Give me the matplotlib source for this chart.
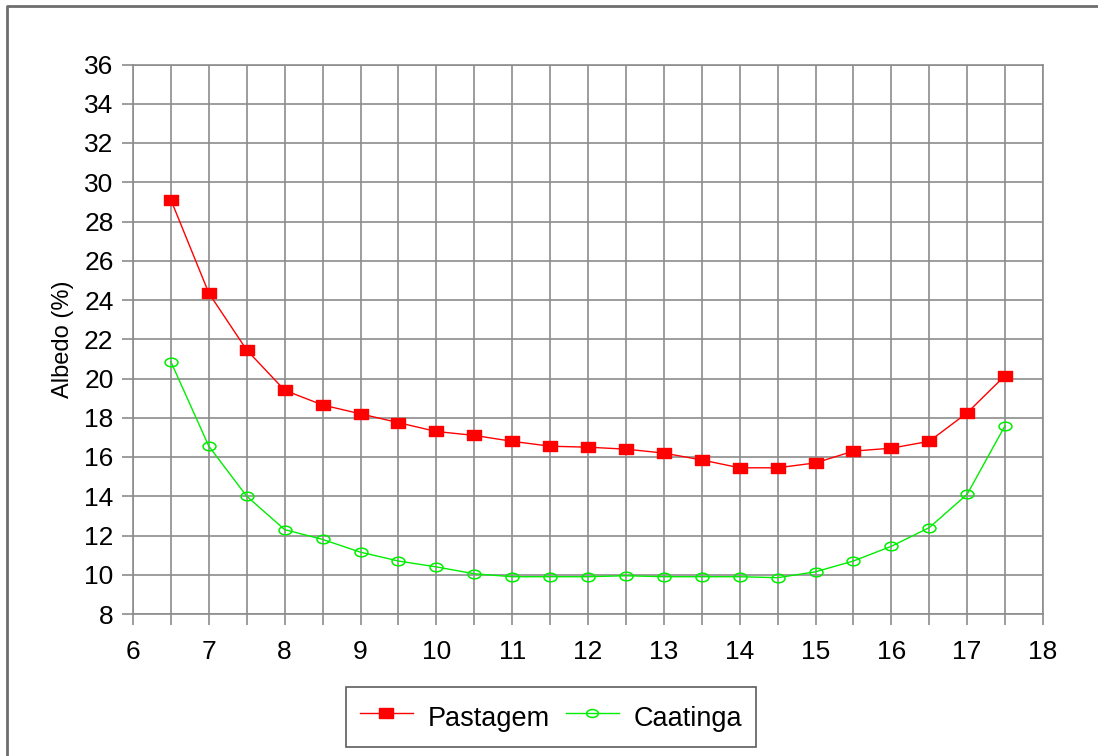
import matplotlib
matplotlib.use("Agg")
import matplotlib.pyplot as plt
from matplotlib.lines import Line2D
from matplotlib.path import Path
from matplotlib.transforms import Affine2D

plt.rcParams['font.family'] = ['Liberation Sans', 'DejaVu Sans']

hours = [6.5, 7, 7.5, 8, 8.5, 9, 9.5, 10, 10.5, 11, 11.5, 12,
         12.5, 13, 13.5, 14, 14.5, 15, 15.5, 16, 16.5, 17, 17.5]
pastagem = [29.1, 24.35, 21.45, 19.4, 18.65, 18.2, 17.75, 17.3, 17.1, 16.8, 16.55, 16.5,
            16.4, 16.2, 15.85, 15.45, 15.45, 15.7, 16.3, 16.45, 16.8, 18.25, 20.15]
caatinga = [20.85, 16.55, 14.0, 12.3, 11.8, 11.15, 10.7, 10.4, 10.05, 9.9, 9.9, 9.9,
            9.95, 9.9, 9.9, 9.9, 9.85, 10.15, 10.7, 11.45, 12.4, 14.1, 17.6]

x_ticks = list(range(6, 19))
y_ticks = list(range(8, 37, 2))

# wide markers like the original (rectangle and flattened circle)
rect_marker = Path([(-0.72, -0.5), (0.72, -0.5), (0.72, 0.5), (-0.72, 0.5), (-0.72, -0.5)],
                   [Path.MOVETO, Path.LINETO, Path.LINETO, Path.LINETO, Path.CLOSEPOLY])
ell_marker = Path.unit_circle().transformed(Affine2D().scale(1.5, 1.0))

fig = plt.figure(figsize=(10.98, 7.56), dpi=100)
ax = fig.add_axes([133 / 1098, 1 - 614 / 756, 910 / 1098, 549.5 / 756])

grid_color = '#8c8c8c'
red = '#ff0000'
green = '#00ee00'
ax.plot(hours, pastagem, color=red, lw=1, marker=rect_marker, markersize=9.8,
        markerfacecolor=red, markeredgecolor=red, label='Pastagem', zorder=3)
ax.plot(hours, caatinga, color=green, lw=1, marker=ell_marker, markersize=9.3,
        markerfacecolor='none', markeredgecolor=green, markeredgewidth=1.1,
        label='Caatinga', zorder=3)

ax.set_xlim(6, 18)
ax.set_ylim(8, 36)
ax.set_xticks(x_ticks)
ax.set_yticks(y_ticks)
ax.set_xticks([h + 0.5 for h in x_ticks[:-1]], minor=True)
ax.grid(True, which='both', color=grid_color, lw=1.2)
ax.set_axisbelow(True)
for s in ax.spines.values():
    s.set_color(grid_color)
    s.set_linewidth(1.2)
ax.tick_params(which='major', direction='out', length=8, color=grid_color,
               width=1.2, labelsize=19)
ax.tick_params(axis='y', pad=6)
ax.tick_params(axis='x', pad=11)
ax.tick_params(which='minor', direction='out', length=8, color=grid_color, width=1.2)
ax.set_ylabel('Albedo (%)', fontsize=17, labelpad=7)

handles = [Line2D([], [], color=red, lw=1, marker=rect_marker, markersize=10),
           Line2D([], [], color=green, lw=1, marker=ell_marker, markersize=8.5,
                  markerfacecolor='none', markeredgewidth=1.1)]
leg = fig.legend(handles, ['Pastagem', 'Caatinga'], loc='center',
                 bbox_to_anchor=(551 / 1098, 1 - 717 / 756), ncol=2, fontsize=19.5,
                 frameon=True, fancybox=False, edgecolor='#333333',
                 handlelength=1.95, handleheight=1.5, borderpad=0.5,
                 columnspacing=0.6, handletextpad=0.55)
leg.get_frame().set_linewidth(1.2)

# outer frame (top and left edges visible)
fig.add_artist(Line2D([7 / 1098, 7 / 1098, 1.0], [0, 1 - 6 / 756, 1 - 6 / 756],
                      transform=fig.transFigure, color='#6e6e6e', lw=2))

fig.savefig('out.png', dpi=100)
